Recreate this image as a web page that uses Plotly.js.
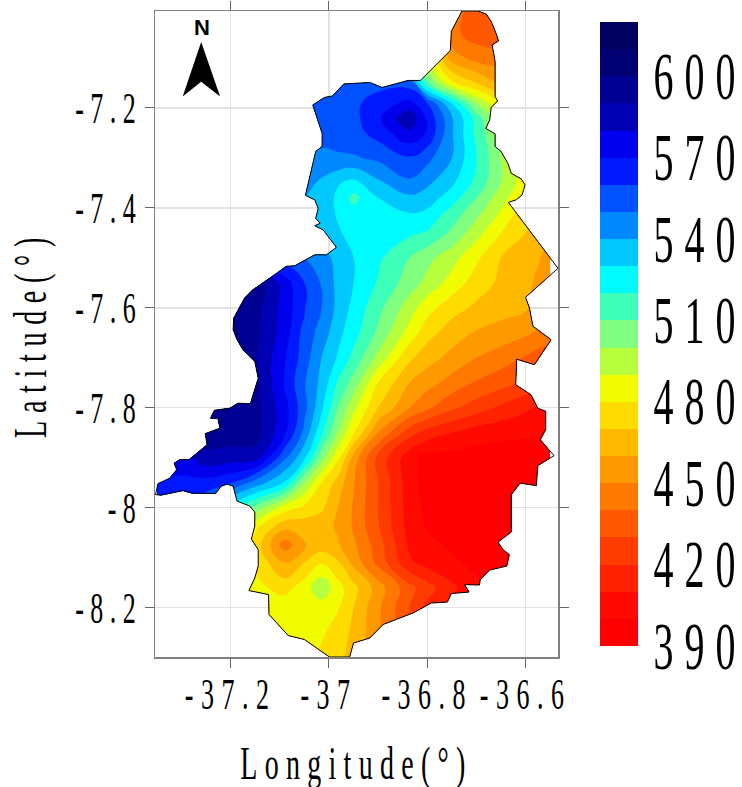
<!DOCTYPE html>
<html>
<head>
<meta charset="utf-8">
<script src="https://cdn.plot.ly/plotly-3.0.1.min.js"></script>
<style>
html,body{margin:0;padding:0;background:#fff;}
#chart{width:742px;height:787px;}
.xtick text{letter-spacing:7.5px;}
.ytick text{letter-spacing:6.5px;}
.xtitle{letter-spacing:7.3px;}
.ytitle{letter-spacing:7.7px;}
</style>
</head>
<body>
<div id="chart"></div>
<script>
const lonGrid=[-37.35,-37.30,-37.25,-37.20,-37.15,-37.09,-37.05,-37.015,-36.982,-36.95,-36.90,-36.836,-36.80,-36.75,-36.70,-36.65,-36.60,-36.55];
const latGrid=[-7.00,-7.05,-7.10,-7.15,-7.19,-7.22,-7.25,-7.30,-7.35,-7.38,-7.41,-7.45,-7.50,-7.55,-7.60,-7.65,-7.70,-7.75,-7.80,-7.85,-7.90,-7.95,-8.00,-8.04,-8.075,-8.11,-8.16,-8.20,-8.25,-8.30];
const rainfall=[
[540,540,540,540,540,540,540,540,540,540,530,500,470,445,436,436,440,450],
[540,540,540,540,540,540,540,540,540,540,530,505,478,443,435,436,445,450],
[545,545,545,545,545,545,545,545,545,545,540,530,490,455,446,444,448,450],
[555,555,555,555,555,555,555,555,555,555,555,555,512,482,470,458,450,450],
[555,555,555,555,555,555,555,556,556,557,566,572,560,529,499,480,465,455],
[555,555,555,555,555,555,554,554,554,557,568,588,568,541,516,490,470,460],
[555,555,555,555,555,555,553,553,553,556,564,578,569,541,517,497,480,470],
[550,550,550,550,550,550,550,548,549,549,552,559,553,540,520,500,480,470],
[548,548,548,548,548,547,544,538,531,527,538,548,542,532,517,500,484,470],
[545,545,545,545,545,545,540,536,528,517,530,538,535,525,510,494,480,470],
[540,540,540,540,540,540,538,535,529,524,527,530,528,516,503,489,473,465],
[545,545,545,545,545,545,540,536,531,527,524,522,519,508,494,480,470,460],
[560,560,560,560,558,555,550,544,537,530,522,510,503,494,482,470,465,457],
[600,600,600,600,597,575,560,549,537,530,519,505,497,486,475,468,462,455],
[606,606,606,599,594,576,561,550,537,527,513,495,484,474,468,464,461,455],
[600,600,600,603,593,575,556,546,533,524,508,486,474,465,459,456,452,445],
[595,595,595,592,592,571,555,540,529,517,497,472,464,457,450,445,439,433],
[595,595,595,595,594,569,551,537,519,506,480,460,454,446,439,434,428,425],
[598,598,598,597,594,574,553,532,510,493,470,450,442,432,425,418,412,406],
[592,592,596,596,595,572,547,522,500,481,450,424,416,410,405,403,402,402],
[575,575,587,585,585,552,532,504,483,456,427,404,396,396,395,394,394,396],
[568,568,566,561,546,529,500,480,466,451,430,404,396,396,395,394,393,393],
[560,560,550,525,507,485,478,472,460,449,430,405,397,396,395,394,393,393],
[540,540,530,505,482,462,463,463,459,449,431,406,399,396,395,394,393,393],
[520,520,510,490,476,445,459,464,461,452,435,408,403,398,395,394,393,393],
[510,510,500,490,478,460,470,479,471,457,437,412,406,402,397,394,393,393],
[490,490,490,488,483,476,485,498,484,473,455,433,424,412,403,398,395,395],
[485,485,485,485,485,486,486,485,481,470,452,430,418,408,402,398,395,395],
[485,485,485,485,485,486,486,482,475,468,452,432,420,410,402,398,395,395],
[485,485,485,485,485,485,484,477,473,466,452,432,420,410,402,398,395,395]
];
const boundaryLon=[-36.7295,-36.697,-36.680,-36.670,-36.660,-36.655,-36.668,-36.666,-36.662,-36.662,-36.657,-36.670,-36.673,-36.681,-36.662,-36.662,-36.650,-36.636,-36.629,-36.609,-36.601,-36.607,-36.619,-36.635,-36.534,-36.600,-36.592,-36.585,-36.575,-36.548,-36.582,-36.618,-36.620,-36.589,-36.575,-36.559,-36.559,-36.570,-36.542,-36.575,-36.578,-36.611,-36.629,-36.629,-36.656,-36.646,-36.633,-36.638,-36.673,-36.692,-36.694,-36.724,-36.715,-36.751,-36.759,-36.792,-36.829,-36.863,-36.890,-36.917,-36.950,-36.958,-36.999,-37.050,-37.083,-37.122,-37.123,-37.163,-37.151,-37.144,-37.144,-37.158,-37.151,-37.151,-37.161,-37.187,-37.195,-37.207,-37.219,-37.231,-37.280,-37.297,-37.327,-37.341,-37.353,-37.348,-37.324,-37.310,-37.315,-37.304,-37.285,-37.248,-37.252,-37.222,-37.226,-37.241,-37.233,-37.202,-37.185,-37.160,-37.144,-37.151,-37.175,-37.187,-37.195,-37.194,-37.172,-37.155,-37.111,-37.087,-37.070,-37.029,-37.005,-36.985,-37.012,-37.029,-37.018,-37.027,-37.022,-37.029,-37.048,-37.027,-37.014,-37.014,-37.033,-37.009,-36.993,-36.970,-36.917,-36.892,-36.839,-36.814,-36.753,-36.751,-36.7295];
const boundaryLat=[-7.006,-7.006,-7.012,-7.027,-7.051,-7.066,-7.074,-7.084,-7.107,-7.177,-7.186,-7.199,-7.224,-7.241,-7.252,-7.277,-7.287,-7.311,-7.331,-7.342,-7.354,-7.374,-7.384,-7.389,-7.521,-7.579,-7.601,-7.637,-7.644,-7.664,-7.714,-7.703,-7.754,-7.774,-7.801,-7.807,-7.844,-7.864,-7.896,-7.916,-7.956,-7.951,-7.974,-8.049,-8.069,-8.084,-8.094,-8.117,-8.125,-8.144,-8.155,-8.154,-8.169,-8.172,-8.189,-8.191,-8.211,-8.223,-8.234,-8.261,-8.271,-8.299,-8.299,-8.264,-8.256,-8.214,-8.174,-8.166,-8.141,-8.117,-8.084,-8.063,-8.037,-8.009,-7.997,-7.987,-7.957,-7.953,-7.957,-7.972,-7.971,-7.966,-7.972,-7.975,-7.974,-7.952,-7.941,-7.924,-7.911,-7.904,-7.904,-7.874,-7.852,-7.841,-7.821,-7.821,-7.805,-7.801,-7.791,-7.792,-7.741,-7.707,-7.684,-7.664,-7.644,-7.621,-7.581,-7.564,-7.534,-7.517,-7.516,-7.494,-7.494,-7.479,-7.444,-7.436,-7.431,-7.421,-7.401,-7.384,-7.375,-7.287,-7.277,-7.251,-7.194,-7.179,-7.176,-7.152,-7.149,-7.159,-7.145,-7.145,-7.085,-7.047,-7.006];
const bandColors=['#ff0000','#ff1200','#ff2a00','#ff4500','#ff6000','#ff8000','#ffa000','#ffc000','#ffe000','#f0ff00','#b4ff40','#80ff80','#40ffb4','#00ffff','#00d0ff','#0090ff','#0060ff','#0020ff','#0000ff','#0000c0','#0000a0','#000080','#000060'];
const colorbarTicks=[390,420,450,480,510,540,570,600];
const lonTicks=[-37.2,-37,-36.8,-36.6];
const lonLabels=['-37.2','-37','-36.8','-36.6'];
const latTicks=[-7.2,-7.4,-7.6,-7.8,-8,-8.2];
const latLabels=['-7.2','-7.4','-7.6','-7.8','-8','-8.2'];

const nBands=bandColors.length, nLevels=nBands+1;
const colorscale=[[0,bandColors[0]]];
bandColors.forEach((c,i)=>colorscale.push([(i+1)/nLevels,c]));
colorscale.push([1,bandColors[nBands-1]]);

const serif='"Liberation Serif","Times New Roman",serif';
const axisBase={showline:true,linecolor:'#808080',linewidth:1.5,mirror:'ticks',ticks:'outside',ticklen:9,tickcolor:'#666',tickwidth:1,
  showgrid:true,gridcolor:'#e2e2e2',gridwidth:1.5,zeroline:false,tickmode:'array',tickfont:{family:serif,size:26,color:'#000'},layer:'below traces'};

const traces=[
{type:'contour',x:lonGrid,y:latGrid,z:rainfall,zmin:390,zmax:620,autocontour:false,
 contours:{start:390,end:620,size:10,coloring:'fill',showlines:false},line:{width:0,smoothing:1.3},
 colorscale:colorscale,hoverinfo:'skip',
 colorbar:{x:1.104,xanchor:'left',xpad:0,y:0.0178,yanchor:'bottom',ypad:0,lenmode:'pixels',len:624,thickness:38,thicknessmode:'pixels',
  outlinewidth:0,borderwidth:0,tickmode:'array',tickvals:colorbarTicks,ticktext:colorbarTicks.map(String),ticks:'outside',ticklen:8,tickcolor:'rgba(0,0,0,0)',
  tickfont:{family:serif,size:40,color:'#000'}}},
{type:'scatter',mode:'lines',x:boundaryLon,y:boundaryLat,line:{color:'#000',width:1},hoverinfo:'skip',showlegend:false}
];
const layout={width:742,height:787,paper_bgcolor:'#fff',plot_bgcolor:'#fff',showlegend:false,
 margin:{l:155,r:184,t:11,b:130,pad:0,autoexpand:false},
 xaxis:Object.assign({},axisBase,{range:[-37.354,-36.534],tickvals:lonTicks,ticktext:lonLabels,
   title:{text:'Longitude(°)',font:{family:serif,size:28,color:'#000'},standoff:30}}),
 yaxis:Object.assign({},axisBase,{range:[-8.299,-7.006],tickvals:latTicks,ticktext:latLabels,
   title:{text:'Latitude(°)',font:{family:serif,size:28,color:'#000'},standoff:30}}),
 shapes:[{type:'path',xref:'paper',yref:'paper',path:'M 0.1146 0.952 L 0.0687 0.8675 L 0.1146 0.8905 L 0.1615 0.8675 Z',fillcolor:'#000',line:{width:0}}],
 annotations:[{xref:'paper',yref:'paper',x:0.1154,y:0.9737,xanchor:'center',yanchor:'middle',text:'<b>N</b>',showarrow:false,font:{family:'"Liberation Sans",Arial,sans-serif',size:22,color:'#000'}}]
};
function stretch(sel,sy,dy,dx){
  document.querySelectorAll(sel).forEach(t=>{
    const x=+t.getAttribute('x'),y=+t.getAttribute('y');
    const old=t.getAttribute('transform')||'';
    t.setAttribute('transform',old+' translate('+(x+(dx||0))+' '+(y+dy)+') scale(1 '+sy+') translate('+(-x)+' '+(-y)+')');
  });
}
const gd=document.getElementById('chart');
Plotly.newPlot(gd,traces,layout,{displayModeBar:false,staticPlot:true}).then(()=>{
  const xa=gd._fullLayout.xaxis,ya=gd._fullLayout.yaxis;
  const d=boundaryLon.map((lon,i)=>(i?'L':'M')+xa.l2p(lon)+','+ya.l2p(boundaryLat[i])).join('')+'Z';
  const NS='http://www.w3.org/2000/svg';
  const cp=document.createElementNS(NS,'clipPath');cp.setAttribute('id','regionClip');
  const p=document.createElementNS(NS,'path');p.setAttribute('d',d);cp.appendChild(p);
  gd.querySelector('.main-svg defs').appendChild(cp);
  gd.querySelectorAll('.contourlayer').forEach(g=>g.setAttribute('clip-path','url(#regionClip)'));
  document.querySelectorAll('.colorbar text').forEach(t=>{t.setAttribute('textLength','82');t.setAttribute('lengthAdjust','spacing');});
  stretch('.xtick text',1.7,10);
  stretch('.ytick text',1.7,6,3);
  stretch('.colorbar text',1.67,9);
  stretch('.xtitle',1.65,25);
  stretch('.ytitle',1.65,13);
});
</script>
</body>
</html>
